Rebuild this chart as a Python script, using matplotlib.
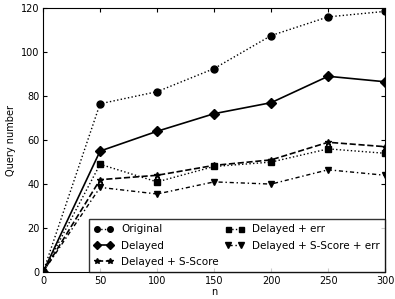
import matplotlib
matplotlib.use("Agg")
import matplotlib.pyplot as plt

# data
n = [0, 50, 100, 150, 200, 250, 300]
original = [0, 76.5, 82, 92.5, 107.5, 116, 118.5]
delayed = [0, 55, 64, 72, 77, 89, 86.5]
delayed_sscore = [0, 42, 44, 48.5, 51, 59, 57]
delayed_err = [0, 49, 41, 48, 50, 56, 54]
delayed_sscore_err = [0, 38.5, 35.5, 41, 40, 46.5, 44]

plt.rcParams['font.family'] = ['DejaVu Sans']
plt.rcParams['font.size'] = 7

fig = plt.figure(figsize=(3.95, 2.99), dpi=100)
ax = fig.add_axes([0.109, 0.09, 0.866, 0.883])

ax.plot(n, original, ':', color='black', marker='o', ms=5, lw=1, label='Original')
ax.plot(n, delayed, '-', color='black', marker='D', ms=5, lw=1.2, label='Delayed')
ax.plot(n, delayed_sscore, '--', color='black', marker='*', ms=5, lw=1.2, label='Delayed + S-Score')
ax.plot(n, delayed_err, ':', color='black', marker='s', ms=4.5, lw=1, label='Delayed + err')
ax.plot(n, delayed_sscore_err, '-.', color='black', marker='v', ms=5, lw=1,
        dashes=(3, 2, 1, 2), label='Delayed + S-Score + err')

ax.set_xlim(0, 300)
ax.set_ylim(0, 120)
ax.set_xticks(n)
ax.set_yticks([0, 20, 40, 60, 80, 100, 120])
ax.tick_params(direction='in', top=True, right=True, length=3, labelsize=7, pad=2.5)
ax.set_xlabel('n', fontsize=7, labelpad=1)
ax.set_ylabel('Query number', fontsize=7)

leg = ax.legend(loc='lower right', ncol=2, fontsize=7.5, frameon=True, fancybox=False,
                borderaxespad=0, numpoints=2, markerscale=0.8, handlelength=1.8,
                handletextpad=0.8, columnspacing=0.6, labelspacing=0.6, borderpad=0.5)
leg.get_frame().set_edgecolor('black')
leg.get_frame().set_linewidth(1)

fig.savefig('out.png', dpi=100)
